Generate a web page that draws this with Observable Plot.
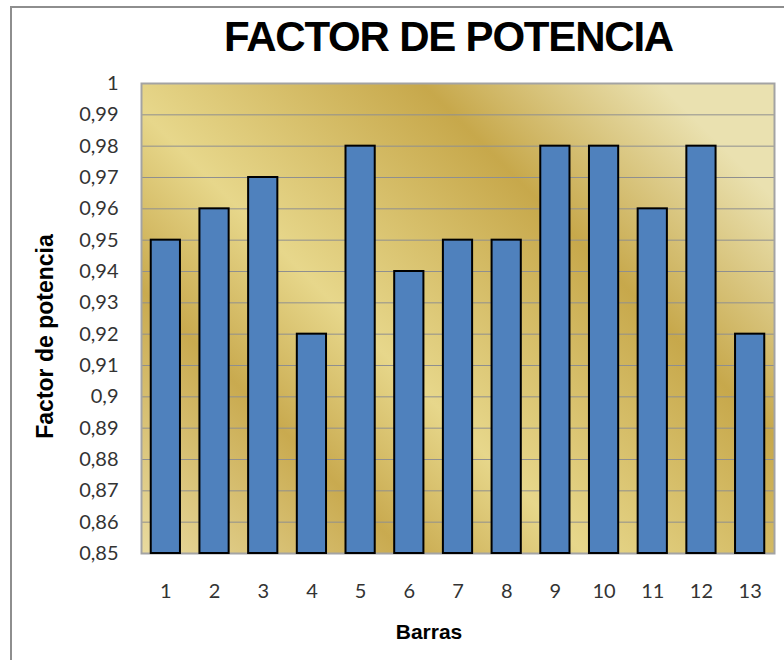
<!DOCTYPE html>
<html>
<head>
<meta charset="utf-8">
<script src="https://cdn.jsdelivr.net/npm/d3@7"></script>
<script src="https://cdn.jsdelivr.net/npm/@observablehq/plot@0.6"></script>
<style>
  html, body { margin: 0; padding: 0; background: #fff; overflow: hidden; width: 784px; height: 660px; }
  #border { position: absolute; left: 10px; top: 6px; width: 820px; height: 700px; border: 2px solid #8e8e8e; box-sizing: border-box; }
  #title { position: absolute; left: 0; width: 897px; top: 16px; height: 42px; line-height: 42px; text-align: center;
           font-family: "Liberation Sans", Arial, sans-serif; font-weight: bold; font-size: 42px; letter-spacing: -1.2px; color: #000; }
  #chart { position: absolute; left: 0; top: 60px; }
</style>
</head>
<body>
<div id="border"></div>
<div id="title">FACTOR DE POTENCIA</div>
<div id="chart"></div>
<script>
// ---- data ----
const barras = ["1","2","3","4","5","6","7","8","9","10","11","12","13"];
const factor = [0.95, 0.96, 0.97, 0.92, 0.98, 0.94, 0.95, 0.95, 0.98, 0.98, 0.96, 0.98, 0.92];
const yTicks = [0.85, 0.86, 0.87, 0.88, 0.89, 0.90, 0.91, 0.92, 0.93, 0.94, 0.95, 0.96, 0.97, 0.98, 0.99, 1];
const yMin = 0.85, yMax = 1;
const xTitle = "Barras";
const yTitle = "Factor de potencia";

const data = barras.map((b, i) => ({barra: b, valor: factor[i]}));
const fmt = d => String(+d.toFixed(2)).replace(".", ",");

const W = 784, H = 600;
const mL = 141, mR = 10, mT = 23, mB = 107;

const svg = Plot.plot({
  width: W, height: H,
  marginLeft: mL, marginRight: mR, marginTop: mT, marginBottom: mB,
  style: {fontFamily: "Lato, sans-serif", fontSize: "20px", color: "#333", background: "transparent"},
  x: {type: "band", domain: barras, paddingInner: 0.4, paddingOuter: 0.2, round: false, tickSize: 0, tickPadding: 30, label: null},
  y: {domain: [yMin, yMax], ticks: yTicks, tickFormat: fmt, tickSize: 0, tickPadding: 23, label: null},
  marks: [
    Plot.frame({fill: "url(#bgGold)"}),
    Plot.ruleY(yTicks, {stroke: "#8f8f8f", strokeWidth: 1}),
    Plot.frame({stroke: "#a3a3a3", strokeWidth: 2}),
    Plot.barY(data, {x: "barra", y1: () => yMin, y2: "valor", fill: "#4F81BD", stroke: "#000", strokeWidth: 2}),
    Plot.text([xTitle], {text: d => d, frameAnchor: "bottom", lineAnchor: "middle", dx: -29, dy: 79,
      fontFamily: "Liberation Sans, Arial, sans-serif", fontWeight: "bold", fontSize: 21, fill: "#000"}),
    Plot.text([yTitle], {text: d => d, frameAnchor: "left", lineAnchor: "middle", textAnchor: "middle", rotate: -90, dx: -96, dy: 18,
      fontFamily: "Liberation Sans, Arial, sans-serif", fontWeight: "bold", fontSize: 23, fill: "#000"})
  ]
});

// gold gradient background (diagonal bands)
const x0 = mL, y0 = mT + 473;
const defs = d3.select(svg).insert("defs", ":first-child");
const grad = defs.append("linearGradient")
  .attr("id", "bgGold")
  .attr("gradientUnits", "userSpaceOnUse")
  .attr("x1", x0).attr("y1", y0)
  .attr("x2", x0 + 495.5).attr("y2", y0 - 495.5);
[[0, "#E9DBA0"], [0.27, "#C9AA4F"], [0.45, "#E7D78B"], [0.76, "#C7A84B"], [1, "#EAE1B0"]]
  .forEach(([o, c]) => grad.append("stop").attr("offset", o).attr("stop-color", c));

document.getElementById("chart").appendChild(svg);
</script>
</body>
</html>
